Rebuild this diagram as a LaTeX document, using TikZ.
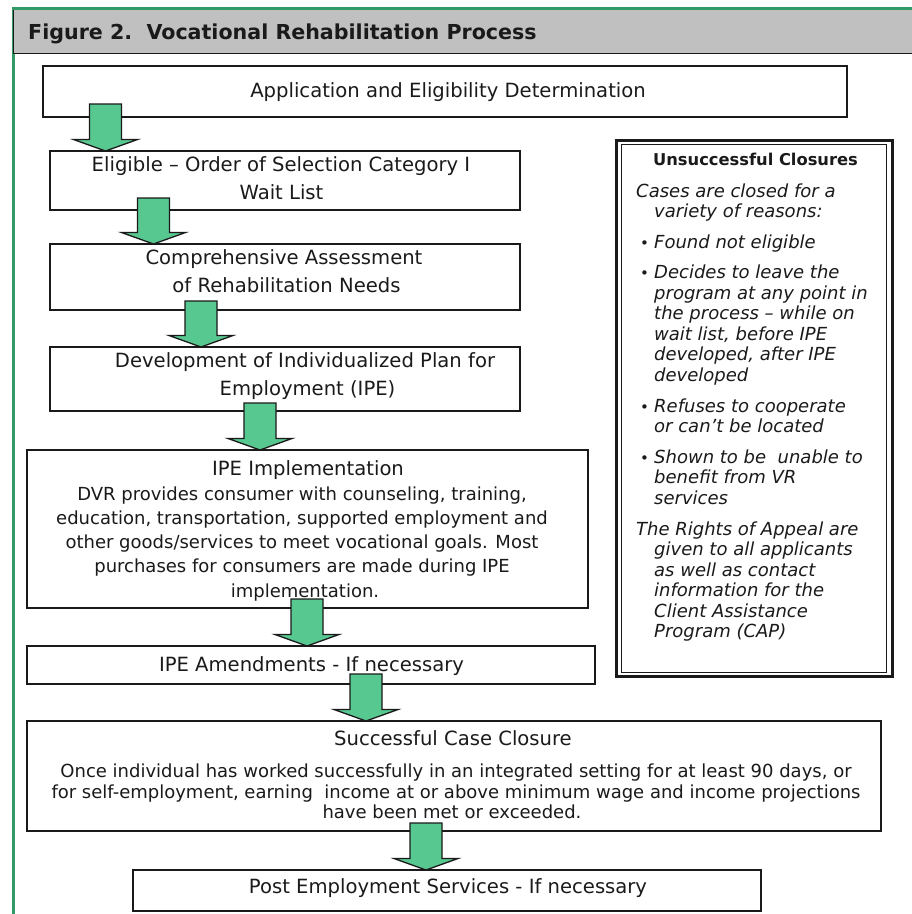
\documentclass[tikz,border=0pt]{standalone}
\usepackage{fontspec}
\setmainfont{DejaVu Sans}[ItalicFont={DejaVu Sans Oblique},BoldFont={DejaVu Sans Bold},BoldItalicFont={DejaVu Sans Bold Oblique}]
\usetikzlibrary{calc}
\definecolor{frameGreen}{RGB}{51,153,102}
\definecolor{arrowGreen}{RGB}{88,200,145}
\definecolor{headGray}{RGB}{192,192,192}
\definecolor{ink}{RGB}{26,26,26}
\tikzset{
  procbox/.style={draw=ink, line width=1.6pt, fill=white, inner sep=0pt, outer sep=0pt},
  blockarr/.style={draw=ink, line width=1.3pt, fill=arrowGreen, line join=miter},
  maintxt/.style={font=\fontsize{19.6}{23}\selectfont, text=ink, inner sep=0pt, anchor=base},
  bodytxt/.style={font=\fontsize{18}{21}\selectfont, text=ink, inner sep=0pt, anchor=base},
  sidetxt/.style={font=\fontsize{18}{20.6}\selectfont\itshape, text=ink, inner sep=0pt, anchor=base west},
  sidebul/.style={font=\fontsize{15}{20.6}\selectfont, text=ink, inner sep=0pt, anchor=base west},
}
% #1 x, #2 source node, #3 target node, #4 gap above source bottom
\newcommand{\greenarrow}[4]{%
  \draw[blockarr] let \p1=(#1,0 |- #3.north), \p2=(#1,0 |- #2.south) in
    (\x1-16pt,\y2+#4pt) -- (\x1+16pt,\y2+#4pt) -- (\x1+16pt,\y1+11.5pt) --
    (\x1+32pt,\y1+11.5pt) -- (\x1,\y1) -- (\x1-32pt,\y1+11.5pt) --
    (\x1-16pt,\y1+11.5pt) -- cycle;}
\begin{document}
\begin{tikzpicture}[x=1pt,y=-1pt]
\useasboundingbox (0,0) rectangle (912,914);
\fill[white] (0,0) rectangle (912,914);
% frame and header
\draw[frameGreen, line width=3pt] (13.5,914) -- (13.5,8.5) -- (912,8.5);
\fill[headGray] (13,10) rectangle (912,53);
\draw[ink, line width=1.5pt] (13.5,10) -- (13.5,53.5) -- (912,53.5);
\node[anchor=base west, inner sep=0pt, text=ink, font=\fontsize{20.6}{24}\selectfont\bfseries] (title) at (28,39.5) {Figure 2.\ \ Vocational Rehabilitation Process};

% process boxes
\node[procbox, minimum width=804, minimum height=51] (b1) at (445,91.5) {};
\node[procbox, minimum width=470, minimum height=59] (b2) at (285,180.5) {};
\node[procbox, minimum width=470, minimum height=66] (b3) at (285,277) {};
\node[procbox, minimum width=470, minimum height=64] (b4) at (285,379) {};
\node[procbox, minimum width=561, minimum height=158] (b5) at (307.5,529) {};
\node[procbox, minimum width=568, minimum height=38] (b6) at (311,665) {};
\node[procbox, minimum width=854, minimum height=110] (b7) at (454,776) {};
\node[procbox, minimum width=628, minimum height=41] (b8) at (447,890.5) {};

% box texts
\node[maintxt] (t1) at (448,97) {Application and Eligibility Determination};
\node[maintxt] (t2a) at (281,171) {Eligible – Order of Selection Category I};
\node[maintxt] (t2b) at (281.5,199) {Wait List};
\node[maintxt] (t3a) at (284,264) {Comprehensive Assessment};
\node[maintxt] (t3b) at (286.5,292) {of Rehabilitation Needs};
\node[maintxt] (t4a) at (305,367) {Development of Individualized Plan for};
\node[maintxt] (t4b) at (307.5,395) {Employment (IPE)};
\node[maintxt] (t5) at (308,475) {IPE Implementation};
\node[bodytxt] (t5a) at (302,500) {DVR provides consumer with counseling, training,};
\node[bodytxt] (t5b) at (302,524.3) {education, transportation, supported employment and};
\node[bodytxt] (t5c) at (302,548.6) {other goods/services to meet vocational goals. Most};
\node[bodytxt] (t5d) at (302,572.9) {purchases for consumers are made during IPE};
\node[bodytxt] (t5e) at (305,597) {implementation.};
\node[maintxt] (t6) at (311.5,671) {IPE Amendments - If necessary};
\node[maintxt] (t7) at (453,745) {Successful Case Closure};
\node[bodytxt] (t7a) at (456,777) {Once individual has worked successfully in an integrated setting for at least 90 days, or};
\node[bodytxt] (t7b) at (456,798) {for self-employment, earning\ \ income at or above minimum wage and income projections};
\node[bodytxt] (t7c) at (452,818.5) {have been met or exceeded.};
\node[maintxt] (t8) at (448,893) {Post Employment Services - If necessary};

% arrows
\greenarrow{105.5}{b1}{b2}{13}
\greenarrow{153.5}{b2}{b3}{12}
\greenarrow{201}{b3}{b4}{9}
\greenarrow{260}{b4}{b5}{8}
\greenarrow{307}{b5}{b6}{9}
\greenarrow{366}{b6}{b7}{10}
\greenarrow{426}{b7}{b8}{8}

% unsuccessful closures box
\node[draw=ink, line width=3pt, minimum width=276, minimum height=536, inner sep=0pt] (ub) at (754.5,408) {};
\node[draw=ink, line width=1pt, minimum width=265.5, minimum height=527.5, inner sep=0pt] (ubi) at (753.75,408.25) {};
\node[anchor=base, inner sep=0pt, text=ink, font=\fontsize{16.3}{20}\selectfont\bfseries] (uh) at (755.5,165) {Unsuccessful Closures};
\node[sidetxt] (s1) at (636,197) {Cases are closed for a};
\node[sidetxt] (s2) at (654,217.5) {variety of reasons:};
\node[sidebul] (k1) at (640,248) {•};
\node[sidetxt] (s3) at (654,248) {Found not eligible};
\node[sidebul] (k2) at (640,278.5) {•};
\node[sidetxt] (s4) at (654,278.5) {Decides to leave the};
\node[sidetxt] (s5) at (654,299) {program at any point in};
\node[sidetxt] (s6) at (654,319.5) {the process – while on};
\node[sidetxt] (s7) at (654,340) {wait list, before IPE};
\node[sidetxt] (s8) at (654,360.5) {developed, after IPE};
\node[sidetxt] (s9) at (654,381) {developed};
\node[sidebul] (k3) at (640,412) {•};
\node[sidetxt] (s10) at (654,412) {Refuses to cooperate};
\node[sidetxt] (s11) at (654,432.5) {or can’t be located};
\node[sidebul] (k4) at (640,463) {•};
\node[sidetxt] (s12) at (654,463) {Shown to be\ \ unable to};
\node[sidetxt] (s13) at (654,483.5) {benefit from VR};
\node[sidetxt] (s14) at (654,504) {services};
\node[sidetxt] (s15) at (636,535) {The Rights of Appeal are};
\node[sidetxt] (s16) at (654,555.5) {given to all applicants};
\node[sidetxt] (s17) at (654,576) {as well as contact};
\node[sidetxt] (s18) at (654,596.5) {information for the};
\node[sidetxt] (s19) at (654,617) {Client Assistance};
\node[sidetxt] (s20) at (654,637.5) {Program (CAP)};
\end{tikzpicture}
\end{document}
